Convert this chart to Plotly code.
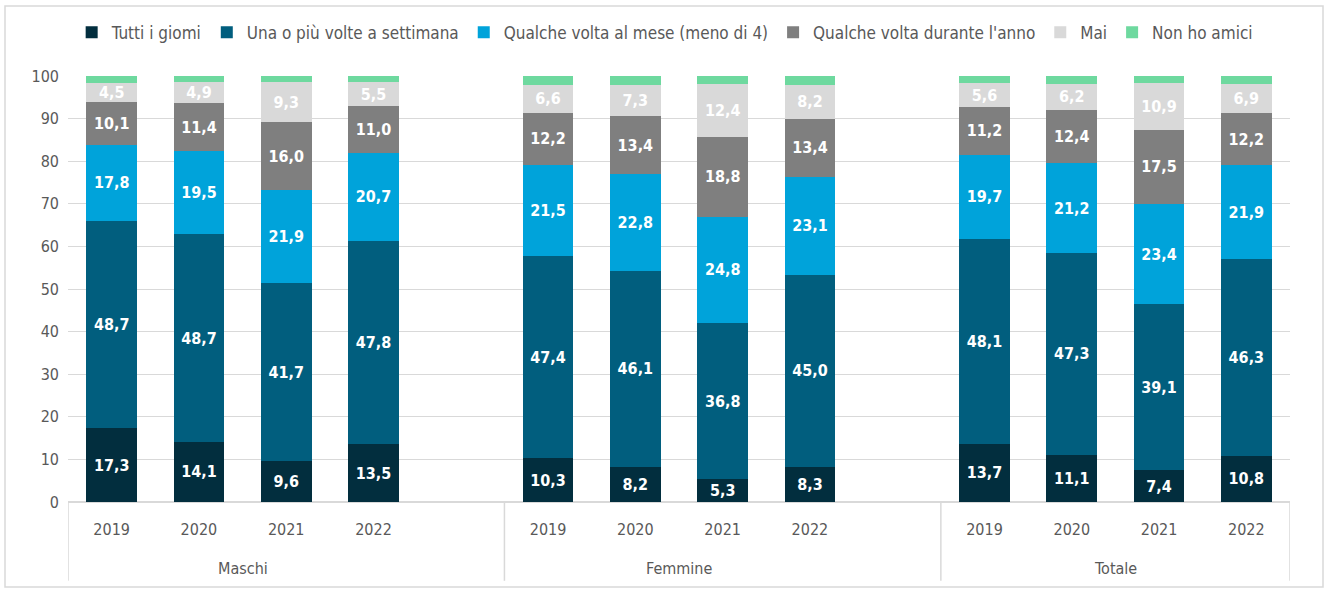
import plotly.graph_objects as go

groups = ["Maschi", "Femmine", "Totale"]
years = ["2019", "2020", "2021", "2022"]

series_names = ["Tutti i giomi", "Una o più volte a settimana", "Qualche volta al mese (meno di 4)",
                "Qualche volta durante l'anno", "Mai", "Non ho amici"]
colors = ["#022E3E", "#015E7E", "#00A3DA", "#7F7F7F", "#D9D9D9", "#6ED99F"]

tutti = [17.3, 14.1, 9.6, 13.5, 10.3, 8.2, 5.3, 8.3, 13.7, 11.1, 7.4, 10.8]
una = [48.7, 48.7, 41.7, 47.8, 47.4, 46.1, 36.8, 45.0, 48.1, 47.3, 39.1, 46.3]
mese = [17.8, 19.5, 21.9, 20.7, 21.5, 22.8, 24.8, 23.1, 19.7, 21.2, 23.4, 21.9]
anno = [10.1, 11.4, 16.0, 11.0, 12.2, 13.4, 18.8, 13.4, 11.2, 12.4, 17.5, 12.2]
mai = [4.5, 4.9, 9.3, 5.5, 6.6, 7.3, 12.4, 8.2, 5.6, 6.2, 10.9, 6.9]
non_ho = [1.6, 1.4, 1.5, 1.5, 2.0, 2.2, 1.9, 2.0, 1.7, 1.8, 1.7, 2.3]

series = [tutti, una, mese, anno, mai, non_ho]

# slot positions: 4 bars, one blank slot, 4 bars, blank, 4 bars
xpos = []
for g in range(len(groups)):
    for i in range(len(years)):
        xpos.append(g * 5 + i)
ticklabels = years * len(groups)

FONT = "Liberation Sans Narrow, Arial Narrow, DejaVu Sans Condensed, Liberation Sans, sans-serif"

fig = go.Figure()
for name, vals, col in zip(series_names, series, colors):
    show_text = name != "Non ho amici"
    fig.add_trace(go.Bar(
        x=xpos, y=vals, name=name,
        marker=dict(color=col, line=dict(width=0)),
        text=[f"{v:.1f}".replace(".", ",") for v in vals] if show_text else None,
        textposition="inside" if show_text else "none",
        insidetextanchor="middle",
        textangle=0,
        textfont=dict(color="white", size=16, family=FONT),
        texttemplate="<b>%{text}</b>" if show_text else None,
        hoverinfo="skip",
    ))

fig.update_layout(
    barmode="stack",
    bargap=0.42,
    width=1328, height=591,
    margin=dict(l=68, r=38, t=76, b=89),
    paper_bgcolor="white", plot_bgcolor="white",
    font=dict(family=FONT, color="#595959", size=16),
    uniformtext=dict(minsize=16, mode="show"),
    legend=dict(orientation="h", x=0.003, xanchor="left", y=0.975, yref="container",
                yanchor="top", traceorder="normal",
                font=dict(size=17, color="#595959", family=FONT),
                itemwidth=30, tracegroupgap=0,
                bgcolor="rgba(0,0,0,0)"),
    showlegend=True,
    xaxis=dict(range=[-0.5, 13.5], tickmode="array", tickvals=xpos, ticktext=ticklabels,
               showgrid=False, zeroline=False, showline=False, ticks="",
               tickfont=dict(size=16, color="#595959"), ticklabelstandoff=16),
    yaxis=dict(range=[0, 100], dtick=10, showgrid=True, gridcolor="#D9D9D9", gridwidth=1,
               zeroline=True, zerolinecolor="#D9D9D9", showline=False, ticks="",
               tickfont=dict(size=16, color="#595959"), ticklabelstandoff=8),
)

# group separators and group labels
for b in [-0.5, 4.5, 9.5, 13.5]:
    fig.add_shape(type="line", xref="x", yref="paper", x0=b, x1=b, y0=0, y1=-0.185,
                  line=dict(color="#D9D9D9", width=1.5))
for g, name in enumerate(groups):
    fig.add_annotation(x=g * 5 + 1.5, xref="x", y=-0.155, yref="paper", text=name,
                       showarrow=False, yanchor="middle",
                       font=dict(size=16, color="#595959", family=FONT))

# outer chart border
fig.add_shape(type="rect", xref="paper", yref="paper",
              x0=-63 / 1222, x1=1 + 33 / 1222, y0=-85 / 426, y1=1 + 70 / 426,
              line=dict(color="#D9D9D9", width=1.5), fillcolor="rgba(0,0,0,0)")

fig.write_html("out.html")
